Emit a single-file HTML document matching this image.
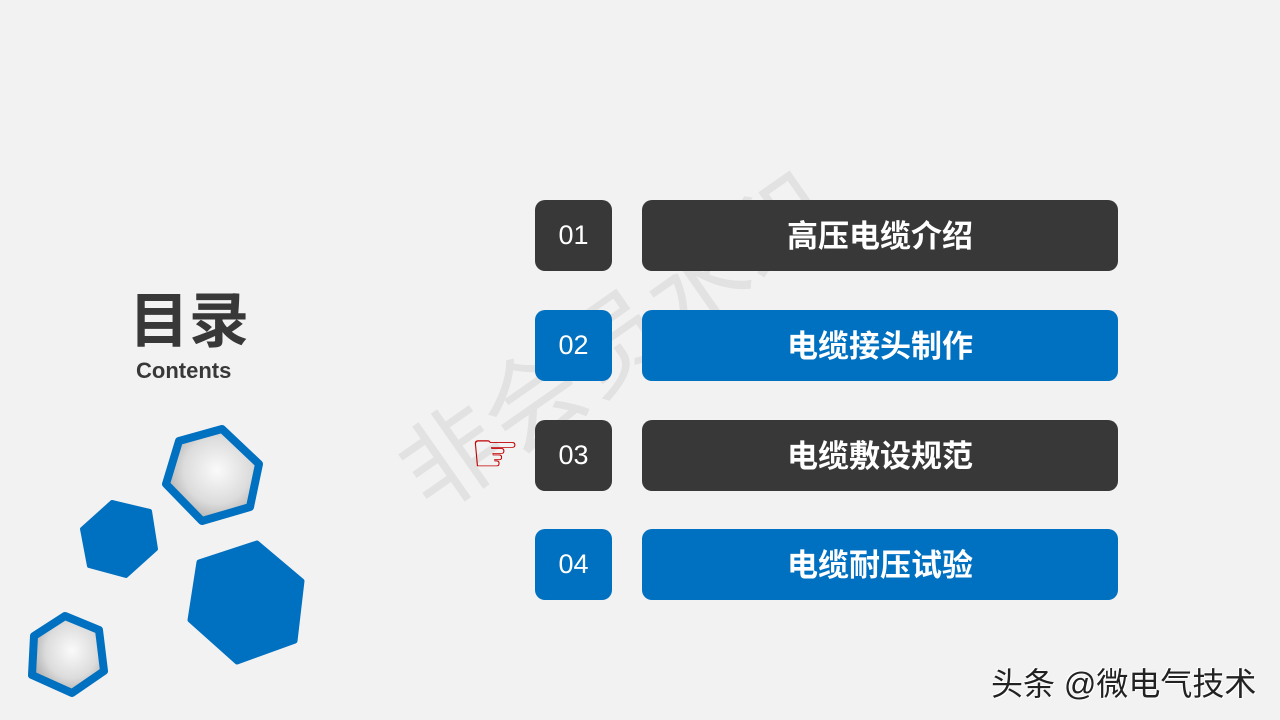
<!DOCTYPE html>
<html><head><meta charset="utf-8"><style>
body{margin:0;width:1280px;height:720px;background:#f2f2f2;overflow:hidden;position:relative;font-family:"Liberation Sans","Noto Sans CJK SC",sans-serif}
.num{position:absolute;left:535px;width:77px;height:71px;border-radius:10px;color:#fff;font-size:27px;display:flex;align-items:center;justify-content:center}
.bar{position:absolute;left:642px;width:476px;height:71px;border-radius:10px;color:#fff;font-size:31px;font-weight:bold;display:flex;align-items:center;justify-content:center;padding-bottom:4px;box-sizing:border-box}
.d{background:#383838}.b{background:#0070c0}
</style></head><body>
<svg width="1280" height="720" style="position:absolute;left:0;top:0">
<defs><radialGradient id="g" cx="0.55" cy="0.45" r="0.6"><stop offset="0" stop-color="#fafafa"/><stop offset="0.6" stop-color="#dcdcdc"/><stop offset="1" stop-color="#a8a8a8"/></radialGradient></defs>
<g stroke-linejoin="round">
<polygon points="222,429 259,464 250,507 202,521 166,484 179,441" fill="url(#g)" stroke="#0070c0" stroke-width="8"/>
<polygon points="112,502 150,511 156,549 126,576 89,566 82,529" fill="#0070c0" stroke="#0070c0" stroke-width="4"/>
<polygon points="257,543 302,581 295,641 237,662 190,620 199,562" fill="#0070c0" stroke="#0070c0" stroke-width="5"/>
<polygon points="65,616 99,630 104,671 72,693 32,675 34,636" fill="url(#g)" stroke="#0070c0" stroke-width="8"/>
</g>
<text x="636" y="372" transform="rotate(-35 636 372)" text-anchor="middle" font-size="100" fill="#e2e2e2" font-family="Noto Sans CJK SC,sans-serif">非会员水印</text>
</svg>
<div style="position:absolute;left:129px;top:282px;font-size:60px;font-weight:bold;color:#383838;line-height:80px">目录</div>
<div style="position:absolute;left:136px;top:357px;font-size:22px;font-weight:bold;color:#383838;line-height:28px">Contents</div>
<div class="num d" style="top:200px">01</div><div class="bar d" style="top:200px">高压电缆介绍</div>
<div class="num b" style="top:310px">02</div><div class="bar b" style="top:310px">电缆接头制作</div>
<div class="num d" style="top:420px">03</div><div class="bar d" style="top:420px">电缆敷设规范</div>
<div class="num b" style="top:529px">04</div><div class="bar b" style="top:529px">电缆耐压试验</div>
<div style="position:absolute;left:470px;top:424px;font-size:56px;line-height:60px;color:#c00000;font-family:'DejaVu Sans',sans-serif">☞</div>
<div style="position:absolute;left:991px;top:662px;font-size:32px;line-height:44px;color:#222;text-shadow:1px 1px 0 #fff,-1px -1px 0 #fff">头条 @微电气技术</div>
</body></html>
